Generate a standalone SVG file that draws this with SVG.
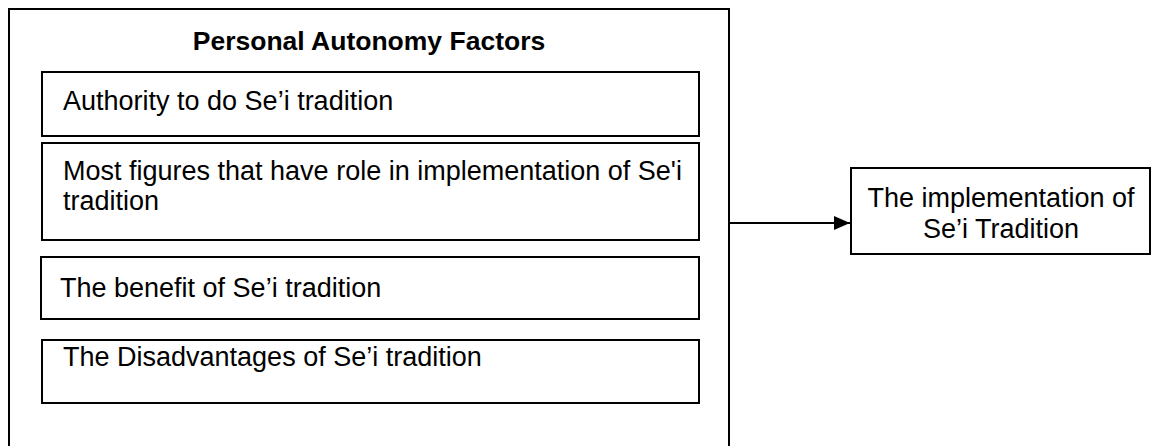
<svg xmlns="http://www.w3.org/2000/svg" width="1153" height="446" viewBox="0 0 1153 446">
<style>
.box{fill:#fff;stroke:#000;stroke-width:2}
.t{font-family:"Liberation Sans",Arial,sans-serif;font-size:27px;fill:#000}
.title{font-family:"Liberation Sans",Arial,sans-serif;font-size:26.5px;font-weight:bold;fill:#000}
.ln{stroke:#000;stroke-width:2;fill:none}
</style>
<defs>
<marker id="arr" markerWidth="16" markerHeight="14" refX="16" refY="7" orient="auto" markerUnits="userSpaceOnUse">
<path d="M0,0 L16,7 L0,14 Z" fill="#000"/>
</marker>
</defs>
<rect width="1153" height="446" fill="#fff"/>
<g id="container">
<rect class="box" x="9" y="9" width="720" height="460"/>
<text class="title" x="369" y="50" text-anchor="middle">Personal Autonomy Factors</text>
</g>
<g id="authority">
<rect class="box" x="42" y="72" width="657" height="64"/>
<text class="t" x="63" y="110">Authority to do Se’i tradition</text>
</g>
<g id="figures">
<rect class="box" x="42" y="143" width="657" height="97"/>
<text class="t" x="63" y="180">Most figures that have role in implementation of Se'i</text>
<text class="t" x="63" y="210">tradition</text>
</g>
<g id="benefit">
<rect class="box" x="41" y="257" width="658" height="62"/>
<text class="t" x="60" y="297">The benefit of Se’i tradition</text>
</g>
<g id="disadvantages">
<rect class="box" x="42" y="340" width="657" height="63"/>
<text class="t" x="63" y="366">The Disadvantages of Se’i tradition</text>
</g>
<g id="implementation">
<rect class="box" x="851" y="168" width="299" height="86"/>
<text class="t" x="1001" y="207" text-anchor="middle">The implementation of</text>
<text class="t" x="1001" y="238" text-anchor="middle">Se’i Tradition</text>
</g>
<g id="connectors">
<line class="ln" x1="729" y1="223" x2="850" y2="223" marker-end="url(#arr)"/>
</g>
</svg>
